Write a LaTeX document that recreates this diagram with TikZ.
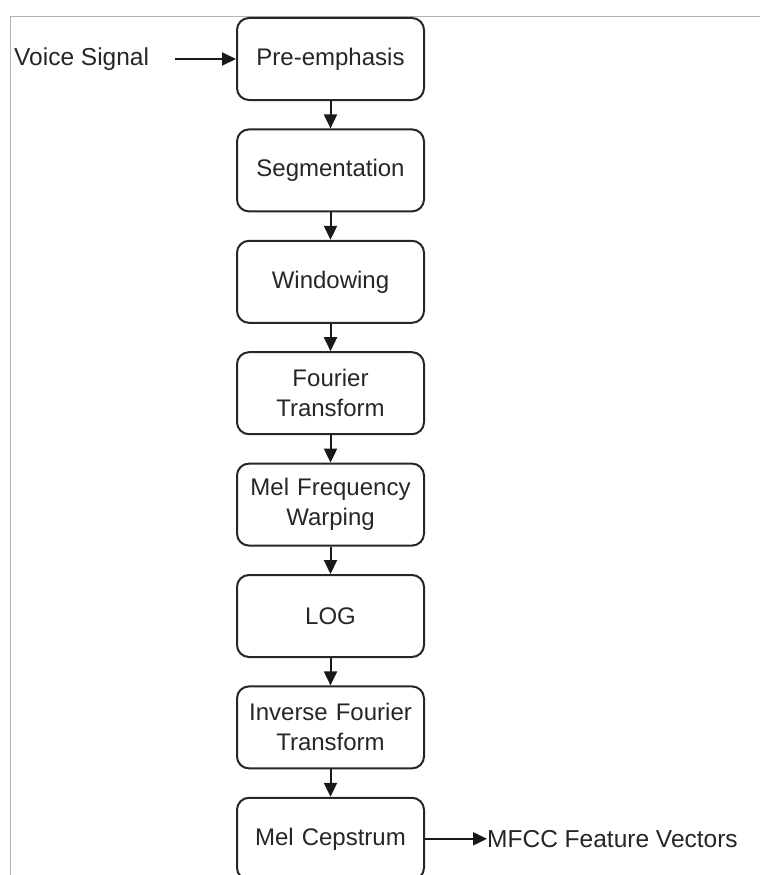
\documentclass[tikz,border=0pt]{standalone}
\usepackage{fontspec}
\setmainfont{Liberation Sans}
\usetikzlibrary{positioning,arrows.meta}

\tikzset{
  stage/.style={draw=black!85, line width=2pt, rounded corners=12pt,
    minimum width=187pt, minimum height=82pt, text width=180pt, align=center,
    font=\fontsize{24}{30}\selectfont, text=black!85},
  sidetext/.style={inner sep=0pt, font=\fontsize{24.5}{30}\selectfont, text=black!85},
  flow/.style={draw=black!90, line width=2pt, -{Triangle[length=14pt,width=13pt]}}
}

\begin{document}
\begin{tikzpicture}[x=1pt, y=-1pt]
  \clip (0,0) rectangle (760,875);
  \draw[black!30, line width=1pt] (10,875) -- (10,17) -- (760,17); % frame

  \node[stage] (pre) at (330.5,59) {Pre-emphasis};
  \node[stage, below=27.4pt of pre] (seg) {Segmentation};
  \node[stage, below=27.4pt of seg] (win) {Windowing};
  \node[stage, below=27.4pt of win] (fft) {Fourier\\Transform};
  \node[stage, below=27.4pt of fft] (mel) {Mel Frequency\\Warping};
  \node[stage, below=27.4pt of mel] (log) {LOG};
  \node[stage, below=27.4pt of log] (ifft) {Inverse Fourier\\Transform};
  \node[stage, below=27.4pt of ifft] (cep) {Mel Cepstrum};

  \node[sidetext, anchor=west] (voice) at (14,59) {Voice Signal};
  \coordinate (vin) at (175,59);
  \node[sidetext, right=62pt of cep] (mfcc) {MFCC Feature Vectors};

  \draw[flow] (vin) -- (pre);
  \draw[flow] (pre) -- (seg);
  \draw[flow] (seg) -- (win);
  \draw[flow] (win) -- (fft);
  \draw[flow] (fft) -- (mel);
  \draw[flow] (mel) -- (log);
  \draw[flow] (log) -- (ifft);
  \draw[flow] (ifft) -- (cep);
  \draw[flow] (cep) -- (mfcc);
\end{tikzpicture}
\end{document}
